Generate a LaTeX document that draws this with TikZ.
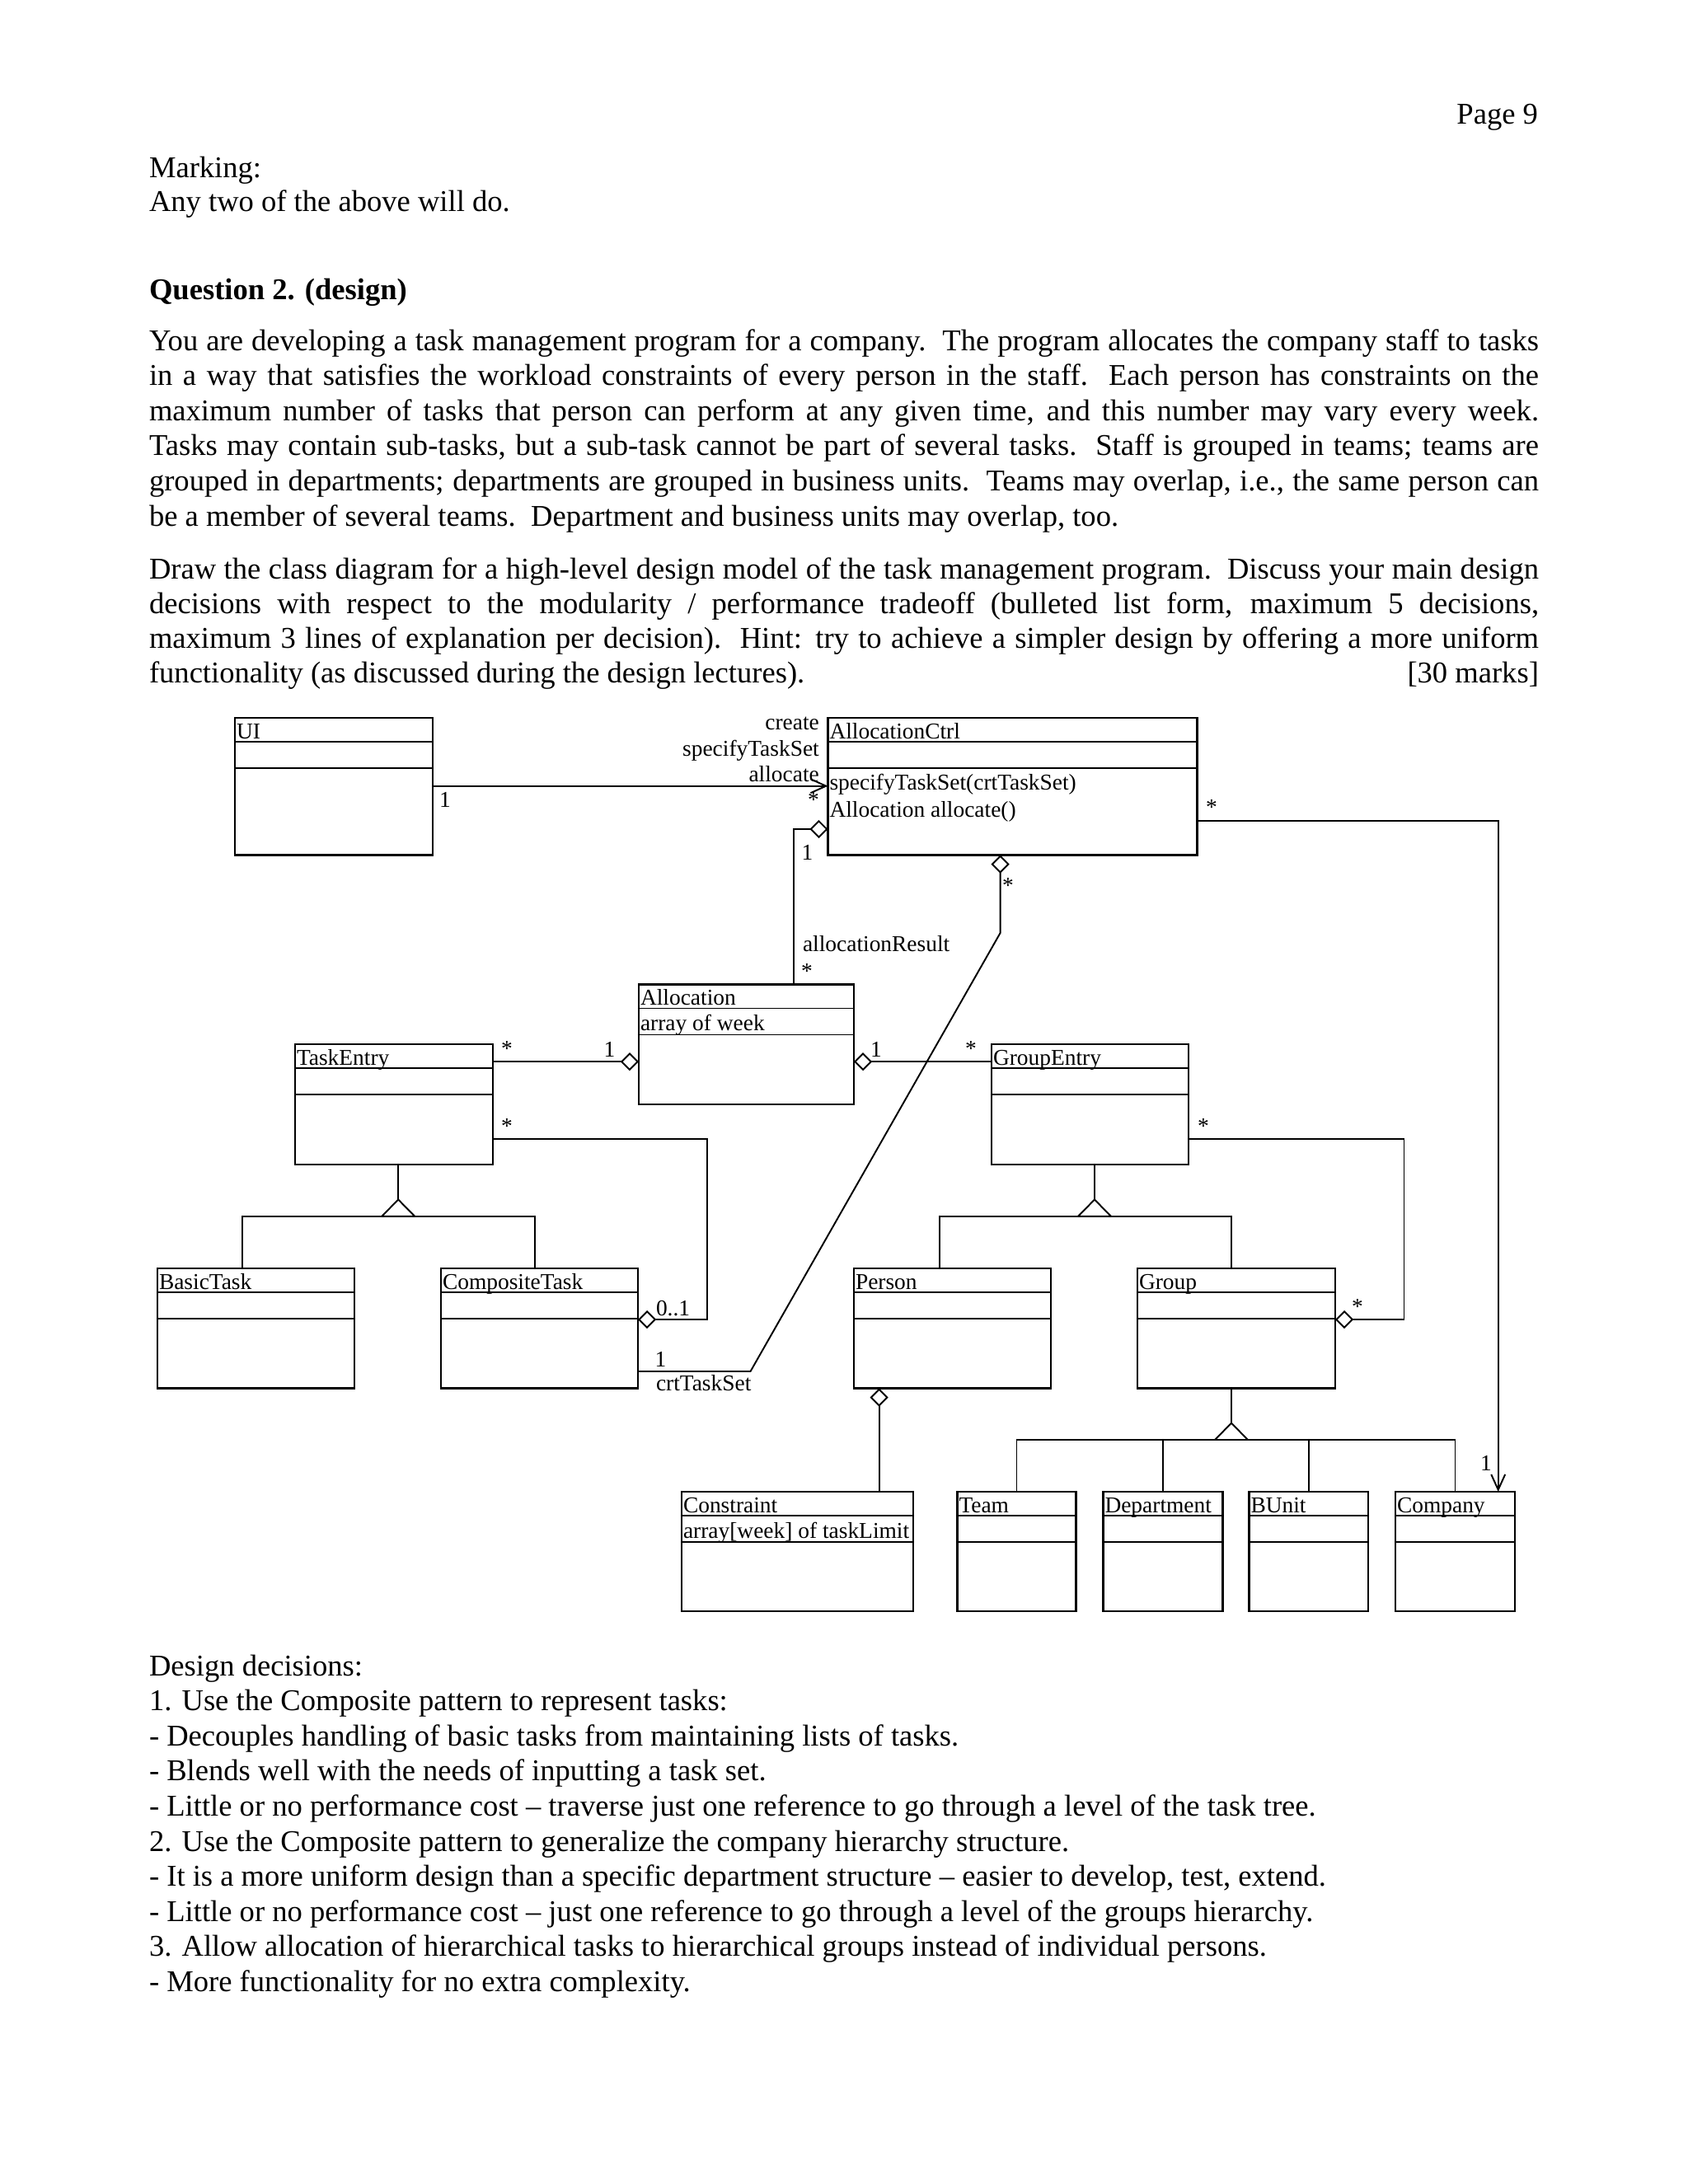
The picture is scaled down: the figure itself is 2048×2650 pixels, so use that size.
\documentclass[tikz,border=0pt]{standalone}
\usepackage{fontspec}
\setmainfont{Liberation Serif}
\usetikzlibrary{arrows.meta,calc}

\newcommand{\bodyfont}{\fontsize{10.4}{12.1}\selectfont}
\newcommand{\umlfont}{\fontsize{7.8}{9.1}\selectfont}

\tikzset{x=0.01cm, y=-0.01cm,
         every node/.style={inner sep=0pt, outer sep=0pt},
         bodyline/.style={font=\bodyfont, anchor=base west},
         umllabel/.style={font=\umlfont},
         umlbase/.style={font=\umlfont, anchor=base west},
         multstar/.style={font=\umlfont, yshift=-1pt},
         classbox/.style={draw, line width=0.6pt, anchor=north west},
         conn/.style={draw, line width=0.55pt},
         aggr/.style={conn, -{Diamond[open,length=6.3pt,width=6.3pt]}},
         raggr/.style={conn, {Diamond[open,length=6.3pt,width=6.3pt]}-},
         nav/.style={conn, -{Straight Barb[length=5.3pt,width=4.8pt]}},
         inherit/.pic={\draw[conn, fill=white] (0,-20.3) -- (20,0) -- (-20,0) -- cycle;}}

% name, x, y, width, height, title, attribute
\newcommand{\umlclass}[7]{%
  \node[classbox, minimum width=#4*0.01cm, minimum height=#5*0.01cm] (#1) at (#2,#3) {};
  \draw[conn] ($(#1.north west)+(0,29)$) -- ($(#1.north east)+(0,29)$);
  \draw[conn] ($(#1.north west)+(0,61)$) -- ($(#1.north east)+(0,61)$);
  \node[umlbase] (#1-title) at ($(#1.north west)+(2,25)$) {#6};
  \node[umlbase] (#1-attr) at ($(#1.north west)+(2,56)$) {#7};
}

\begin{document}
\begin{tikzpicture}
\fill[white] (0,0) rectangle (2048,2650);
\useasboundingbox (0,0) rectangle (2048,2650);

% header and question text
\node[bodyline, anchor=base east] (pageno) at (1866,150) {Page 9};
\node[bodyline] (marking) at (181,215) {Marking:};
\node[bodyline] (anytwo) at (181,256) {Any two of the above will do.};
\node[bodyline] (question) at (181,363) {\bfseries Question 2. (design)};

\foreach \txt [count=\i from 0] in {
  {You are developing a task management program for a company.\ \ The program allocates the company staff to tasks},
  {in a way that satisfies the workload constraints of every person in the staff.\ \ Each person has constraints on the},
  {maximum number of tasks that person can perform at any given time, and this number may vary every week.},
  {Tasks may contain sub-tasks, but a sub-task cannot be part of several tasks.\ \ Staff is grouped in teams; teams are},
  {grouped in departments; departments are grouped in business units.\ \ Teams may overlap, i.e., the same person can}}
  \node[bodyline] (para1-\i) at (181,{425+42.6*\i}) {\makebox[16.85cm][s]{\txt}};
\node[bodyline] (para1-5) at (181,638) {be a member of several teams.\ \ Department and business units may overlap, too.};

\foreach \txt [count=\i from 0] in {
  {Draw the class diagram for a high-level design model of the task management program.\ \ Discuss your main design},
  {decisions with respect to the modularity / performance tradeoff (bulleted list form, maximum 5 decisions,},
  {maximum 3 lines of explanation per decision).\ \ Hint: try to achieve a simpler design by offering a more uniform},
  {functionality (as discussed during the design lectures).\hfill[30 marks]}}
  \node[bodyline] (para2-\i) at (181,{702+42.2*\i}) {\makebox[16.85cm][s]{\txt}};

% classes
\umlclass{ui}{285}{871}{240}{166.5}{UI}{}
\umlclass{ctrl}{1004.5}{871}{448}{166.5}{AllocationCtrl}{}
\node[umlbase] (ctrl-op1) at ($(ctrl.north west)+(2,87.5)$) {specifyTaskSet(crtTaskSet)};
\node[umlbase] (ctrl-op2) at ($(ctrl.north west)+(2,120)$) {Allocation allocate()};
\umlclass{alloc}{775}{1194.5}{261}{145.5}{Allocation}{array of week}
\umlclass{taskentry}{358}{1267}{240}{146}{TaskEntry}{}
\umlclass{groupentry}{1203}{1267}{239}{146}{GroupEntry}{}
\umlclass{basictask}{191}{1539}{239}{145.5}{BasicTask}{}
\umlclass{composite}{535}{1539}{239}{145.5}{CompositeTask}{}
\umlclass{person}{1036}{1539}{239}{145.5}{Person}{}
\umlclass{group}{1380}{1539}{240}{145.5}{Group}{}
\umlclass{constraint}{827}{1810}{281}{145}{Constraint}{array[week] of taskLimit}
\umlclass{team}{1161.5}{1810}{144}{145}{Team}{}
\umlclass{department}{1338.5}{1810}{145}{145}{Department}{}
\umlclass{bunit}{1515.5}{1810}{144.5}{145}{BUnit}{}
\umlclass{company}{1693}{1810}{145}{145}{Company}{}

% UI calls the controller
\coordinate (uiout) at ($(ui.north east)+(0,82.7)$);
\draw[nav] (uiout) -- (uiout -| ctrl.west);
\node[umllabel, anchor=base east] (l-create) at (993.8,885) {create};
\node[umllabel, anchor=base east] (l-spec) at (993.8,917) {specifyTaskSet};
\node[umllabel, anchor=base east] (l-allocate) at (993.8,948.7) {allocate};
\node[umllabel] (m-ui) at (540,970) {1};
\node[multstar] (m-ctrl1) at (987,967) {*};

% controller holds the results
\coordinate (ctrlres) at ($(ctrl.north west)+(0,135)$);
\draw[raggr] (ctrlres) -| ($(alloc.north west)+(188.4,0)$);
\node[umllabel] (m-ctrl2) at (979.4,1034) {1};
\node[umlbase] (l-result) at (974,1154) {allocationResult};
\node[multstar] (m-alloc1) at (979,1175) {*};

% controller to company
\coordinate (ctrlout) at ($(ctrl.north east)+(0,125.2)$);
\draw[nav] (ctrlout) -| ($(company.north west)+(124.7,0)$);
\node[multstar] (m-ctrl3) at (1470,976) {*};
\node[umllabel] (m-company) at (1803,1775) {1};

% allocation entries
\coordinate (teout) at ($(taskentry.north east)+(0,21.2)$);
\draw[aggr] (teout) -- (teout -| alloc.west);
\node[multstar] (m-te1) at (615,1269) {*};
\node[umllabel] (m-alloc2) at (739.5,1273) {1};
\coordinate (geout) at ($(groupentry.north west)+(0,21.2)$);
\draw[raggr] (geout -| alloc.east) -- (geout);
\node[umllabel] (m-alloc3) at (1063,1273) {1};
\node[multstar] (m-ge1) at (1178,1269) {*};

% composite tasks
\coordinate (tesub) at ($(taskentry.north east)+(0,115)$);
\draw[aggr] (tesub) -| ($(composite.north east)+(84.3,62)$) -- ($(composite.north east)+(0,62)$);
\node[multstar] (m-te2) at (615,1363) {*};
\node[umllabel, anchor=west] (m-comp1) at (796,1588) {0..1};

% current task set
\coordinate (ctout) at ($(composite.north east)+(0,125)$);
\draw[aggr] (ctout) -- ++(136.5,0) -- ($(ctrl.south west)+(209.1,94.5)$) -- ($(ctrl.south west)+(209.1,0)$);
\node[umllabel] (m-comp2) at (801.5,1649) {1};
\node[umlbase] (l-crt) at (796,1687) {crtTaskSet};
\node[multstar] (m-ctrl4) at (1223,1071) {*};

% composite groups
\coordinate (gesub) at ($(groupentry.north east)+(0,115)$);
\draw[aggr] (gesub) -| ($(group.north east)+(83.5,62)$) -- ($(group.north east)+(0,62)$);
\node[multstar] (m-ge2) at (1460,1363) {*};
\node[multstar] (m-group) at (1647,1582) {*};

% person constraints
\coordinate (pcon) at ($(person.south west)+(30.6,0)$);
\draw[raggr] (pcon) -- (pcon |- constraint.north);

% generalizations
\coordinate (tehub) at ($(taskentry.south west)+(125.2,62.8)$);
\draw[conn] (taskentry.south west -| tehub) -- ($(tehub)+(0,-20.3)$);
\draw[conn] ($(basictask.north west)+(103.3,0)$) |- (tehub) -| ($(composite.north west)+(114.4,0)$);
\pic at (tehub) {inherit};

\coordinate (gehub) at ($(groupentry.south west)+(125,62.8)$);
\draw[conn] (groupentry.south west -| gehub) -- ($(gehub)+(0,-20.3)$);
\draw[conn] ($(person.north west)+(103.6,0)$) |- (gehub) -| ($(group.north west)+(114,0)$);
\pic at (gehub) {inherit};

\coordinate (grhub) at ($(group.south west)+(114,62.5)$);
\draw[conn] (group.south west -| grhub) -- ($(grhub)+(0,-20.3)$);
\draw[conn] (team.north) |- (grhub) -| (company.north);
\draw[conn] (department.north) -- (department.north |- grhub);
\draw[conn] (bunit.north) -- (bunit.north |- grhub);
\pic at (grhub) {inherit};

% design decisions
\foreach \txt [count=\i from 0] in {
  {Design decisions:},
  {1. Use the Composite pattern to represent tasks:},
  {- Decouples handling of basic tasks from maintaining lists of tasks.},
  {- Blends well with the needs of inputting a task set.},
  {- Little or no performance cost – traverse just one reference to go through a level of the task tree.},
  {2. Use the Composite pattern to generalize the company hierarchy structure.},
  {- It is a more uniform design than a specific department structure – easier to develop, test, extend.},
  {- Little or no performance cost – just one reference to go through a level of the groups hierarchy.},
  {3. Allow allocation of hierarchical tasks to hierarchical groups instead of individual persons.},
  {- More functionality for no extra complexity.}}
  \node[bodyline] (dd-\i) at (181,{2033+42.6*\i}) {\txt};
\end{tikzpicture}
\end{document}
